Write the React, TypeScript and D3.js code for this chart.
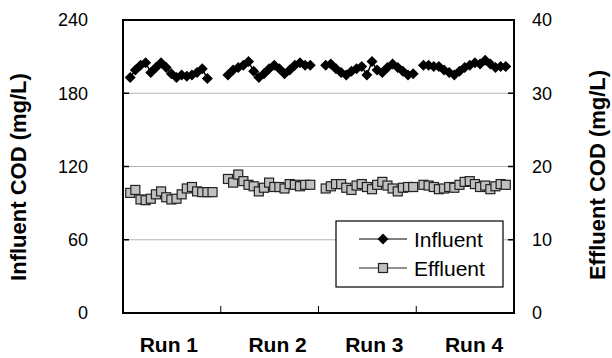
import React from "react";
import * as d3 from "d3";

// Run labels along the category axis
const runs = ["Run 1", "Run 2", "Run 3", "Run 4"];

// Influent COD (mg/L), left axis, one array per run
const influentRun1 = [193, 199, 203, 205, 197, 201, 205, 201, 196, 193, 195, 194, 195, 197, 200, 192];
const influentRun2 = [195, 199, 201, 203, 206, 198, 193, 196, 200, 203, 200, 196, 199, 203, 205, 203, 203];
const influentRun3 = [203, 204, 200, 197, 195, 198, 200, 202, 195, 206, 199, 197, 201, 204, 201, 198, 195, 196];
const influentRun4 = [203, 203, 202, 202, 199, 197, 195, 198, 201, 203, 205, 204, 207, 204, 201, 202, 202];

// Effluent COD (mg/L), right axis, one array per run
const effluentRun1 = [16.4, 16.8, 15.5, 15.4, 15.6, 16.2, 16.6, 15.8, 15.5, 15.6, 16.2, 17.0, 17.2, 16.6, 16.5, 16.5, 16.5];
const effluentRun2 = [18.3, 17.8, 18.9, 18.0, 17.5, 17.3, 16.6, 17.1, 17.8, 17.2, 17.2, 17.0, 17.6, 17.5, 17.3, 17.5, 17.5];
const effluentRun3 = [17.0, 17.3, 17.6, 17.6, 17.1, 16.8, 17.4, 17.6, 17.2, 16.9, 17.5, 17.9, 17.4, 17.0, 16.6, 17.1, 17.2, 17.2];
const effluentRun4 = [17.5, 17.4, 17.2, 16.9, 17.0, 17.2, 17.1, 17.5, 17.9, 18.0, 17.6, 17.2, 17.4, 16.9, 17.3, 17.6, 17.5];

const leftTicks = [0, 60, 120, 180, 240];
const rightTicks = [0, 10, 20, 30, 40];

const influent = [influentRun1, influentRun2, influentRun3, influentRun4];
const effluent = [effluentRun1, effluentRun2, effluentRun3, effluentRun4];

const W = 612;
const H = 358;
const M = { left: 123, right: 514, top: 20, bottom: 313 };
const SLOTS_PER_RUN = 19;
// horizontal nudge of each run label from its band centre
const LABEL_NUDGE = [-3, 8, 7, 9];
const FONT = "'Liberation Sans', Arial, sans-serif";

export default function App() {
  const band = d3.scaleBand<string>().domain(runs).range([M.left, M.right]).padding(0);
  const x = d3
    .scaleLinear()
    .domain([0, runs.length * SLOTS_PER_RUN])
    .range([M.left, M.right]);
  const yL = d3.scaleLinear().domain([0, 240]).range([M.bottom, M.top]);
  const yR = d3.scaleLinear().domain([0, 40]).range([M.bottom, M.top]);

  const xi = (run: number, i: number) => x(run * SLOTS_PER_RUN + i + 1.4);

  const diamond = (cx: number, cy: number, r = 5.5) =>
    `M${cx},${cy - r}L${cx + r},${cy}L${cx},${cy + r}L${cx - r},${cy}Z`;

  const lineFor = (vals: number[], run: number, y: d3.ScaleLinear<number, number>) =>
    d3
      .line<number>()
      .x((_, i) => xi(run, i))
      .y((d) => y(d))(vals) as string;

  const catTicks = runs.slice(1).map((r) => band(r) as number);

  return (
    <svg width={W} height={H} style={{ position: "absolute", left: 0, top: 0 }} fontFamily={FONT}>
      <rect x={0} y={0} width={W} height={H} fill="#fff" />
      {/* gridlines */}
      {leftTicks.slice(1, -1).map((t) => (
        <line key={t} x1={M.left} x2={M.right} y1={yL(t)} y2={yL(t)} stroke="#b4b4b4" strokeWidth={1} />
      ))}

      {/* effluent series */}
      {effluent.map((vals, run) => (
        <g key={`e${run}`}>
          <path d={lineFor(vals, run, yR)} fill="none" stroke="#222" strokeWidth={1.2} />
          {vals.map((v, i) => (
            <rect
              key={i}
              x={xi(run, i) - 4.5}
              y={yR(v) - 4.5}
              width={9}
              height={9}
              fill="#c0c0c0"
              stroke="#222"
              strokeWidth={1.2}
            />
          ))}
        </g>
      ))}

      {/* influent series */}
      {influent.map((vals, run) => (
        <g key={`i${run}`}>
          <path d={lineFor(vals, run, yL)} fill="none" stroke="#000" strokeWidth={1.5} />
          {vals.map((v, i) => (
            <path key={i} d={diamond(xi(run, i), yL(v))} fill="#000" />
          ))}
        </g>
      ))}

      {/* frame */}
      <rect
        x={M.left}
        y={M.top}
        width={M.right - M.left}
        height={M.bottom - M.top}
        fill="none"
        stroke="#000"
        strokeWidth={2}
      />
      {/* inward ticks */}
      {leftTicks.map((t) => (
        <line key={`lt${t}`} x1={M.left} x2={M.left + 6} y1={yL(t)} y2={yL(t)} stroke="#000" strokeWidth={1.5} />
      ))}
      {rightTicks.map((t) => (
        <line key={`rt${t}`} x1={M.right - 6} x2={M.right} y1={yR(t)} y2={yR(t)} stroke="#000" strokeWidth={1.5} />
      ))}
      {catTicks.map((cx, i) => (
        <line key={`ct${i}`} x1={cx} x2={cx} y1={M.bottom} y2={M.bottom - 7} stroke="#000" strokeWidth={1} />
      ))}

      {/* tick labels */}
      {leftTicks.map((t) => (
        <text key={`ll${t}`} x={88} y={yL(t)} dy="0.36em" textAnchor="end" fontSize={18} fill="#000">
          {t}
        </text>
      ))}
      {rightTicks.map((t) => (
        <text key={`rl${t}`} x={532} y={yR(t)} dy="0.36em" textAnchor="start" fontSize={18} fill="#000">
          {t}
        </text>
      ))}
      {runs.map((r, i) => (
        <text
          key={r}
          x={(band(r) as number) + band.bandwidth() / 2 + LABEL_NUDGE[i]}
          y={352}
          textAnchor="middle"
          fontSize={21}
          fontWeight="bold"
          fill="#000"
        >
          {r}
        </text>
      ))}

      {/* axis titles */}
      <text
        transform={`translate(26,177) rotate(-90)`}
        textAnchor="middle"
        fontSize={22}
        fontWeight="bold"
        fill="#000"
      >
        Influent COD (mg/L)
      </text>
      <text
        transform={`translate(605,175) rotate(-90)`}
        textAnchor="middle"
        fontSize={22}
        fontWeight="bold"
        fill="#000"
      >
        Effluent COD (mg/L)
      </text>

      {/* legend */}
      <g>
        <rect x={336} y={221} width={167} height={66} fill="#fff" stroke="#000" strokeWidth={1.2} />
        <line x1={359} x2={407} y1={239} y2={239} stroke="#000" strokeWidth={1.2} />
        <path d={diamond(383, 239)} fill="#000" />
        <text x={414} y={239} dy="0.36em" fontSize={21} fill="#000">
          Influent
        </text>
        <line x1={359} x2={407} y1={268} y2={268} stroke="#222" strokeWidth={1.2} />
        <rect x={378.5} y={263.5} width={9} height={9} fill="#c0c0c0" stroke="#222" strokeWidth={1.2} />
        <text x={414} y={268} dy="0.36em" fontSize={21} fill="#000">
          Effluent
        </text>
      </g>
    </svg>
  );
}
